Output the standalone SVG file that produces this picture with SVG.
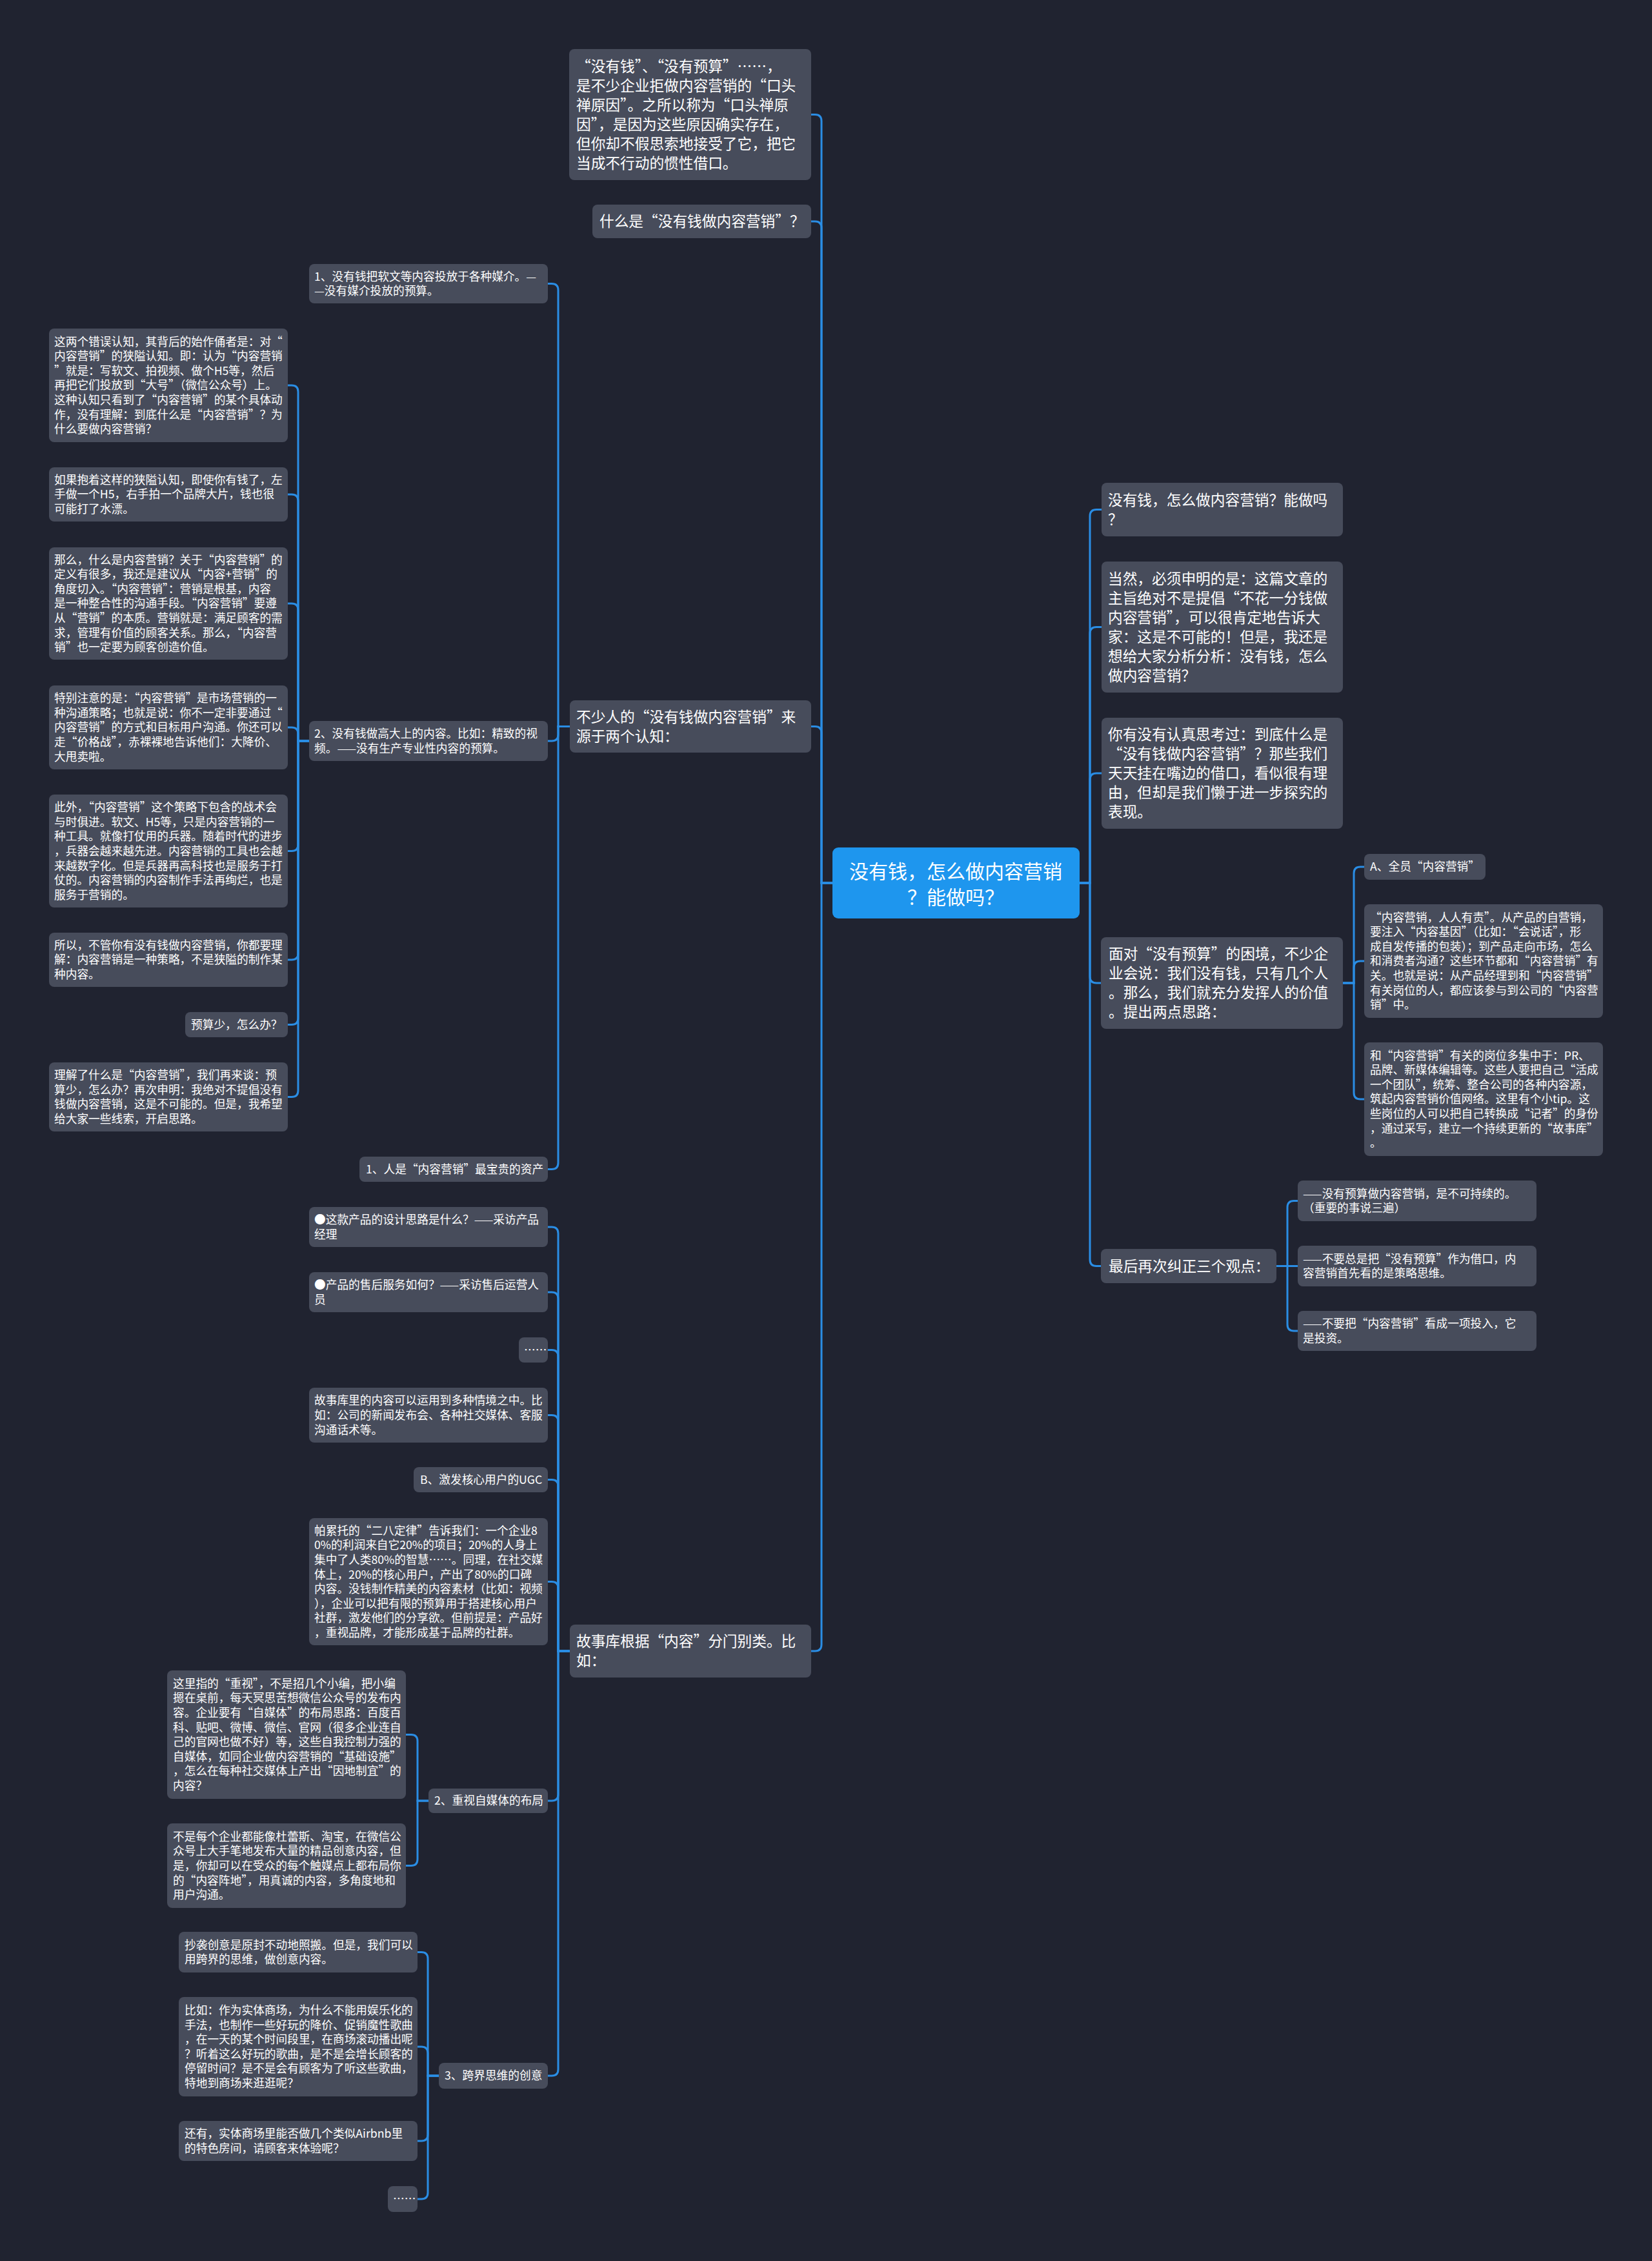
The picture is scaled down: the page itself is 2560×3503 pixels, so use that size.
<svg xmlns="http://www.w3.org/2000/svg" width="2560" height="3503" viewBox="0 0 2560 3503">
<style>
.bg{fill:#202330}
.n{fill:#474c5b}
.r{fill:#1e96ee}
.t{font-family:"Noto Sans CJK SC","Noto Sans",sans-serif;fill:#ffffff}
.s{font-size:17.7px}
.b{font-size:22.7px}
.rt{font-size:30px}
.c{fill:none;stroke:#2a8de4;stroke-width:3}
</style>
<rect class="bg" x="0" y="0" width="2560" height="3503"/>
<g id="connectors">
<path class="c" d="M1290 1368H1273V187.5Q1273 177.5 1263 177.5H1257"/>
<path class="c" d="M1290 1368H1273V353Q1273 343 1263 343H1257"/>
<path class="c" d="M1290 1368H1273V1135.5Q1273 1125.5 1263 1125.5H1257"/>
<path class="c" d="M1290 1368H1273V2548Q1273 2558 1263 2558H1257"/>
<path class="c" d="M1673 1368H1689V799.5Q1689 789.5 1699 789.5H1707"/>
<path class="c" d="M1673 1368H1689V981.5Q1689 971.5 1699 971.5H1707"/>
<path class="c" d="M1673 1368H1689V1208Q1689 1198 1699 1198H1707"/>
<path class="c" d="M1673 1368H1689V1513Q1689 1523 1699 1523H1706"/>
<path class="c" d="M1673 1368H1689V1951.5Q1689 1961.5 1699 1961.5H1706"/>
<path class="c" d="M883 1125.5H865V449.5Q865 439.5 855 439.5H849"/>
<path class="c" d="M883 1125.5H865V1138Q865 1148 855 1148H849"/>
<path class="c" d="M883 1125.5H865V1801.5Q865 1811.5 855 1811.5H849"/>
<path class="c" d="M479 1148H462V607Q462 597 452 597H446"/>
<path class="c" d="M479 1148H462V776Q462 766 452 766H446"/>
<path class="c" d="M479 1148H462V945Q462 935 452 935H446"/>
<path class="c" d="M479 1148H462V1137Q462 1127 452 1127H446"/>
<path class="c" d="M479 1148H462V1308.5Q462 1318.5 452 1318.5H446"/>
<path class="c" d="M479 1148H462V1477Q462 1487 452 1487H446"/>
<path class="c" d="M479 1148H462V1577.5Q462 1587.5 452 1587.5H446"/>
<path class="c" d="M479 1148H462V1689.5Q462 1699.5 452 1699.5H446"/>
<path class="c" d="M883 2558H865V1911Q865 1901 855 1901H849"/>
<path class="c" d="M883 2558H865V2012Q865 2002 855 2002H849"/>
<path class="c" d="M883 2558H865V2101.5Q865 2091.5 855 2091.5H849"/>
<path class="c" d="M883 2558H865V2202.5Q865 2192.5 855 2192.5H849"/>
<path class="c" d="M883 2558H865V2302.5Q865 2292.5 855 2292.5H849"/>
<path class="c" d="M883 2558H865V2460.5Q865 2450.5 855 2450.5H849"/>
<path class="c" d="M883 2558H865V2780Q865 2790 855 2790H849"/>
<path class="c" d="M883 2558H865V3206Q865 3216 855 3216H849"/>
<path class="c" d="M664 2790H647V2697.5Q647 2687.5 637 2687.5H629"/>
<path class="c" d="M664 2790H647V2880.5Q647 2890.5 637 2890.5H629"/>
<path class="c" d="M680 3216H663V3034.5Q663 3024.5 653 3024.5H647"/>
<path class="c" d="M680 3216H663V3181Q663 3171 653 3171H647"/>
<path class="c" d="M680 3216H663V3307Q663 3317 653 3317H647"/>
<path class="c" d="M680 3216H663V3397Q663 3407 653 3407H647"/>
<path class="c" d="M2081 1523H2098V1353Q2098 1343 2108 1343H2114"/>
<path class="c" d="M2081 1523H2098V1499Q2098 1489 2108 1489H2114"/>
<path class="c" d="M2081 1523H2098V1693Q2098 1703 2108 1703H2114"/>
<path class="c" d="M1978 1961.5H1995V1870.5Q1995 1860.5 2005 1860.5H2011"/>
<path class="c" d="M1978 1961.5H2011"/>
<path class="c" d="M1978 1961.5H1995V2052Q1995 2062 2005 2062H2011"/>
</g>
<g id="root">
<rect class="r" x="1290" y="1313" width="383" height="110" rx="9"/>
<text class="t rt" text-anchor="middle"><tspan x="1481" y="1361">没有钱，怎么做内容营销</tspan><tspan x="1481" dy="40">？能做吗？</tspan></text>
</g>
<g id="n-intro">
<rect class="n" x="882" y="76" width="375" height="203" rx="8"/>
<text class="t b"><tspan x="893" y="110.7">“没有钱”、“没有预算”……，</tspan><tspan x="893" dy="30">是不少企业拒做内容营销的“口头</tspan><tspan x="893" dy="30">禅原因”。之所以称为“口头禅原</tspan><tspan x="893" dy="30">因”，是因为这些原因确实存在，</tspan><tspan x="893" dy="30">但你却不假思索地接受了它，把它</tspan><tspan x="893" dy="30">当成不行动的惯性借口。</tspan></text>
</g>
<g id="n-what">
<rect class="n" x="918" y="317" width="339" height="52" rx="8"/>
<text class="t b" x="929" y="351.2">什么是“没有钱做内容营销”？</text>
</g>
<g id="n-two">
<rect class="n" x="883" y="1085" width="374" height="81" rx="8"/>
<text class="t b"><tspan x="893" y="1118.7">不少人的“没有钱做内容营销”来</tspan><tspan x="893" dy="30">源于两个认知：</tspan></text>
</g>
<g id="n-c1">
<rect class="n" x="479" y="409" width="370" height="61" rx="8"/>
<text class="t s"><tspan x="487" y="434.6">1、没有钱把软文等内容投放于各种媒介。—</tspan><tspan x="487" dy="22.6">—没有媒介投放的预算。</tspan></text>
</g>
<g id="n-c2">
<rect class="n" x="479" y="1117" width="370" height="62" rx="8"/>
<text class="t s"><tspan x="487" y="1143.1">2、没有钱做高大上的内容。比如：精致的视</tspan><tspan x="487" dy="22.6">频。——没有生产专业性内容的预算。</tspan></text>
</g>
<g id="n-people">
<rect class="n" x="557" y="1792" width="292" height="39" rx="8"/>
<text class="t s" x="567" y="1817.9">1、人是“内容营销”最宝贵的资产</text>
</g>
<g id="n-l1">
<rect class="n" x="76" y="509" width="370" height="176" rx="8"/>
<text class="t s"><tspan x="84" y="535.6">这两个错误认知，其背后的始作俑者是：对“</tspan><tspan x="84" dy="22.6">内容营销”的狭隘认知。即：认为“内容营销</tspan><tspan x="84" dy="22.6">”就是：写软文、拍视频、做个H5等，然后</tspan><tspan x="84" dy="22.6">再把它们投放到“大号”（微信公众号）上。</tspan><tspan x="84" dy="22.6">这种认知只看到了“内容营销”的某个具体动</tspan><tspan x="84" dy="22.6">作，没有理解：到底什么是“内容营销”？为</tspan><tspan x="84" dy="22.6">什么要做内容营销？</tspan></text>
</g>
<g id="n-l2">
<rect class="n" x="76" y="724" width="370" height="84" rx="8"/>
<text class="t s"><tspan x="84" y="749.8">如果抱着这样的狭隘认知，即使你有钱了，左</tspan><tspan x="84" dy="22.6">手做一个H5，右手拍一个品牌大片，钱也很</tspan><tspan x="84" dy="22.6">可能打了水漂。</tspan></text>
</g>
<g id="n-l3">
<rect class="n" x="76" y="848" width="370" height="174" rx="8"/>
<text class="t s"><tspan x="84" y="873.6">那么，什么是内容营销？关于“内容营销”的</tspan><tspan x="84" dy="22.6">定义有很多，我还是建议从“内容+营销”的</tspan><tspan x="84" dy="22.6">角度切入。“内容营销”：营销是根基，内容</tspan><tspan x="84" dy="22.6">是一种整合性的沟通手段。“内容营销”要遵</tspan><tspan x="84" dy="22.6">从“营销”的本质。营销就是：满足顾客的需</tspan><tspan x="84" dy="22.6">求，管理有价值的顾客关系。那么，“内容营</tspan><tspan x="84" dy="22.6">销”也一定要为顾客创造价值。</tspan></text>
</g>
<g id="n-l4">
<rect class="n" x="76" y="1062" width="370" height="130" rx="8"/>
<text class="t s"><tspan x="84" y="1088.2">特别注意的是：“内容营销”是市场营销的一</tspan><tspan x="84" dy="22.6">种沟通策略；也就是说：你不一定非要通过“</tspan><tspan x="84" dy="22.6">内容营销”的方式和目标用户沟通。你还可以</tspan><tspan x="84" dy="22.6">走“价格战”，赤裸裸地告诉他们：大降价、</tspan><tspan x="84" dy="22.6">大甩卖啦。</tspan></text>
</g>
<g id="n-l5">
<rect class="n" x="76" y="1231" width="370" height="175" rx="8"/>
<text class="t s"><tspan x="84" y="1257.1">此外，“内容营销”这个策略下包含的战术会</tspan><tspan x="84" dy="22.6">与时俱进。软文、H5等，只是内容营销的一</tspan><tspan x="84" dy="22.6">种工具。就像打仗用的兵器。随着时代的进步</tspan><tspan x="84" dy="22.6">，兵器会越来越先进。内容营销的工具也会越</tspan><tspan x="84" dy="22.6">来越数字化。但是兵器再高科技也是服务于打</tspan><tspan x="84" dy="22.6">仗的。内容营销的内容制作手法再绚烂，也是</tspan><tspan x="84" dy="22.6">服务于营销的。</tspan></text>
</g>
<g id="n-l6">
<rect class="n" x="76" y="1445" width="370" height="84" rx="8"/>
<text class="t s"><tspan x="84" y="1470.8">所以，不管你有没有钱做内容营销，你都要理</tspan><tspan x="84" dy="22.6">解：内容营销是一种策略，不是狭隘的制作某</tspan><tspan x="84" dy="22.6">种内容。</tspan></text>
</g>
<g id="n-l7">
<rect class="n" x="287" y="1568" width="159" height="39" rx="8"/>
<text class="t s" x="296" y="1593.9">预算少，怎么办？</text>
</g>
<g id="n-l8">
<rect class="n" x="76" y="1646" width="370" height="107" rx="8"/>
<text class="t s"><tspan x="84" y="1672">理解了什么是“内容营销”，我们再来谈：预</tspan><tspan x="84" dy="22.6">算少，怎么办？再次申明：我绝对不提倡没有</tspan><tspan x="84" dy="22.6">钱做内容营销，这是不可能的。但是，我希望</tspan><tspan x="84" dy="22.6">给大家一些线索，开启思路。</tspan></text>
</g>
<g id="n-story">
<rect class="n" x="883" y="2517" width="374" height="82" rx="8"/>
<text class="t b"><tspan x="893" y="2551.2">故事库根据“内容”分门别类。比</tspan><tspan x="893" dy="30">如：</tspan></text>
</g>
<g id="n-s1">
<rect class="n" x="479" y="1870" width="370" height="62" rx="8"/>
<text class="t s"><tspan x="487" y="1896.1">●这款产品的设计思路是什么？——采访产品</tspan><tspan x="487" dy="22.6">经理</tspan></text>
</g>
<g id="n-s2">
<rect class="n" x="479" y="1971" width="370" height="62" rx="8"/>
<text class="t s"><tspan x="487" y="1997.1">●产品的售后服务如何？——采访售后运营人</tspan><tspan x="487" dy="22.6">员</tspan></text>
</g>
<g id="n-s3">
<rect class="n" x="804" y="2072" width="45" height="39" rx="8"/>
<text class="t s" x="812" y="2097.9">……</text>
</g>
<g id="n-s4">
<rect class="n" x="479" y="2150" width="370" height="85" rx="8"/>
<text class="t s"><tspan x="487" y="2176.3">故事库里的内容可以运用到多种情境之中。比</tspan><tspan x="487" dy="22.6">如：公司的新闻发布会、各种社交媒体、客服</tspan><tspan x="487" dy="22.6">沟通话术等。</tspan></text>
</g>
<g id="n-s5">
<rect class="n" x="641" y="2273" width="208" height="39" rx="8"/>
<text class="t s" x="651" y="2298.9">B、激发核心用户的UGC</text>
</g>
<g id="n-s6">
<rect class="n" x="479" y="2352" width="370" height="197" rx="8"/>
<text class="t s"><tspan x="487" y="2377.8">帕累托的“二八定律”告诉我们：一个企业8</tspan><tspan x="487" dy="22.6">0%的利润来自它20%的项目；20%的人身上</tspan><tspan x="487" dy="22.6">集中了人类80%的智慧……。同理，在社交媒</tspan><tspan x="487" dy="22.6">体上，20%的核心用户，产出了80%的口碑</tspan><tspan x="487" dy="22.6">内容。没钱制作精美的内容素材（比如：视频</tspan><tspan x="487" dy="22.6">），企业可以把有限的预算用于搭建核心用户</tspan><tspan x="487" dy="22.6">社群，激发他们的分享欲。但前提是：产品好</tspan><tspan x="487" dy="22.6">，重视品牌，才能形成基于品牌的社群。</tspan></text>
</g>
<g id="n-s7">
<rect class="n" x="664" y="2771" width="185" height="38" rx="8"/>
<text class="t s" x="673" y="2796.4">2、重视自媒体的布局</text>
</g>
<g id="n-s7a">
<rect class="n" x="259" y="2588" width="370" height="199" rx="8"/>
<text class="t s"><tspan x="268" y="2614.8">这里指的“重视”，不是招几个小编，把小编</tspan><tspan x="268" dy="22.6">摁在桌前，每天冥思苦想微信公众号的发布内</tspan><tspan x="268" dy="22.6">容。企业要有“自媒体”的布局思路：百度百</tspan><tspan x="268" dy="22.6">科、贴吧、微博、微信、官网（很多企业连自</tspan><tspan x="268" dy="22.6">己的官网也做不好）等，这些自我控制力强的</tspan><tspan x="268" dy="22.6">自媒体，如同企业做内容营销的“基础设施”</tspan><tspan x="268" dy="22.6">，怎么在每种社交媒体上产出“因地制宜”的</tspan><tspan x="268" dy="22.6">内容？</tspan></text>
</g>
<g id="n-s7b">
<rect class="n" x="259" y="2825" width="370" height="131" rx="8"/>
<text class="t s"><tspan x="268" y="2851.7">不是每个企业都能像杜蕾斯、淘宝，在微信公</tspan><tspan x="268" dy="22.6">众号上大手笔地发布大量的精品创意内容，但</tspan><tspan x="268" dy="22.6">是，你却可以在受众的每个触媒点上都布局你</tspan><tspan x="268" dy="22.6">的“内容阵地”，用真诚的内容，多角度地和</tspan><tspan x="268" dy="22.6">用户沟通。</tspan></text>
</g>
<g id="n-s8">
<rect class="n" x="680" y="3196" width="169" height="40" rx="8"/>
<text class="t s" x="689" y="3222.4">3、跨界思维的创意</text>
</g>
<g id="n-s8a">
<rect class="n" x="277" y="2993" width="370" height="63" rx="8"/>
<text class="t s"><tspan x="286" y="3019.6">抄袭创意是原封不动地照搬。但是，我们可以</tspan><tspan x="286" dy="22.6">用跨界的思维，做创意内容。</tspan></text>
</g>
<g id="n-s8b">
<rect class="n" x="277" y="3094" width="370" height="154" rx="8"/>
<text class="t s"><tspan x="286" y="3120.9">比如：作为实体商场，为什么不能用娱乐化的</tspan><tspan x="286" dy="22.6">手法，也制作一些好玩的降价、促销魔性歌曲</tspan><tspan x="286" dy="22.6">，在一天的某个时间段里，在商场滚动播出呢</tspan><tspan x="286" dy="22.6">？听着这么好玩的歌曲，是不是会增长顾客的</tspan><tspan x="286" dy="22.6">停留时间？是不是会有顾客为了听这些歌曲，</tspan><tspan x="286" dy="22.6">特地到商场来逛逛呢？</tspan></text>
</g>
<g id="n-s8c">
<rect class="n" x="277" y="3286" width="370" height="62" rx="8"/>
<text class="t s"><tspan x="286" y="3312.1">还有，实体商场里能否做几个类似Airbnb里</tspan><tspan x="286" dy="22.6">的特色房间，请顾客来体验呢？</tspan></text>
</g>
<g id="n-s8d">
<rect class="n" x="601" y="3387" width="46" height="40" rx="8"/>
<text class="t s" x="609" y="3413.4">……</text>
</g>
<g id="n-r1">
<rect class="n" x="1707" y="748" width="374" height="83" rx="8"/>
<text class="t b"><tspan x="1717" y="782.7">没有钱，怎么做内容营销？能做吗</tspan><tspan x="1717" dy="30">？</tspan></text>
</g>
<g id="n-r2">
<rect class="n" x="1707" y="870" width="374" height="203" rx="8"/>
<text class="t b"><tspan x="1717" y="904.7">当然，必须申明的是：这篇文章的</tspan><tspan x="1717" dy="30">主旨绝对不是提倡“不花一分钱做</tspan><tspan x="1717" dy="30">内容营销”，可以很肯定地告诉大</tspan><tspan x="1717" dy="30">家：这是不可能的！但是，我还是</tspan><tspan x="1717" dy="30">想给大家分析分析：没有钱，怎么</tspan><tspan x="1717" dy="30">做内容营销？</tspan></text>
</g>
<g id="n-r3">
<rect class="n" x="1707" y="1112" width="374" height="172" rx="8"/>
<text class="t b"><tspan x="1717" y="1146.2">你有没有认真思考过：到底什么是</tspan><tspan x="1717" dy="30">“没有钱做内容营销”？那些我们</tspan><tspan x="1717" dy="30">天天挂在嘴边的借口，看似很有理</tspan><tspan x="1717" dy="30">由，但却是我们懒于进一步探究的</tspan><tspan x="1717" dy="30">表现。</tspan></text>
</g>
<g id="n-r4">
<rect class="n" x="1706" y="1452" width="375" height="142" rx="8"/>
<text class="t b"><tspan x="1718" y="1486.2">面对“没有预算”的困境，不少企</tspan><tspan x="1718" dy="30">业会说：我们没有钱，只有几个人</tspan><tspan x="1718" dy="30">。那么，我们就充分发挥人的价值</tspan><tspan x="1718" dy="30">。提出两点思路：</tspan></text>
</g>
<g id="n-r4a">
<rect class="n" x="2114" y="1323" width="188" height="40" rx="8"/>
<text class="t s" x="2123" y="1349.4">A、全员“内容营销”</text>
</g>
<g id="n-r4b">
<rect class="n" x="2114" y="1401" width="370" height="176" rx="8"/>
<text class="t s"><tspan x="2123" y="1427.6">“内容营销，人人有责”。从产品的自营销，</tspan><tspan x="2123" dy="22.6">要注入“内容基因”（比如：“会说话”，形</tspan><tspan x="2123" dy="22.6">成自发传播的包装）；到产品走向市场，怎么</tspan><tspan x="2123" dy="22.6">和消费者沟通？这些环节都和“内容营销”有</tspan><tspan x="2123" dy="22.6">关。也就是说：从产品经理到和“内容营销”</tspan><tspan x="2123" dy="22.6">有关岗位的人，都应该参与到公司的“内容营</tspan><tspan x="2123" dy="22.6">销”中。</tspan></text>
</g>
<g id="n-r4c">
<rect class="n" x="2114" y="1615" width="370" height="176" rx="8"/>
<text class="t s"><tspan x="2123" y="1641.6">和“内容营销”有关的岗位多集中于：PR、</tspan><tspan x="2123" dy="22.6">品牌、新媒体编辑等。这些人要把自己“活成</tspan><tspan x="2123" dy="22.6">一个团队”，统筹、整合公司的各种内容源，</tspan><tspan x="2123" dy="22.6">筑起内容营销价值网络。这里有个小tip。这</tspan><tspan x="2123" dy="22.6">些岗位的人可以把自己转换成“记者”的身份</tspan><tspan x="2123" dy="22.6">，通过采写，建立一个持续更新的“故事库”</tspan><tspan x="2123" dy="22.6">。</tspan></text>
</g>
<g id="n-r5">
<rect class="n" x="1706" y="1935" width="272" height="53" rx="8"/>
<text class="t b" x="1718" y="1969.7">最后再次纠正三个观点：</text>
</g>
<g id="n-r5a">
<rect class="n" x="2011" y="1829" width="370" height="63" rx="8"/>
<text class="t s"><tspan x="2019" y="1855.6">——没有预算做内容营销，是不可持续的。</tspan><tspan x="2019" dy="22.6">（重要的事说三遍）</tspan></text>
</g>
<g id="n-r5b">
<rect class="n" x="2011" y="1930" width="370" height="63" rx="8"/>
<text class="t s"><tspan x="2019" y="1956.6">——不要总是把“没有预算”作为借口，内</tspan><tspan x="2019" dy="22.6">容营销首先看的是策略思维。</tspan></text>
</g>
<g id="n-r5c">
<rect class="n" x="2011" y="2031" width="370" height="62" rx="8"/>
<text class="t s"><tspan x="2019" y="2057.1">——不要把“内容营销”看成一项投入，它</tspan><tspan x="2019" dy="22.6">是投资。</tspan></text>
</g>
</svg>
